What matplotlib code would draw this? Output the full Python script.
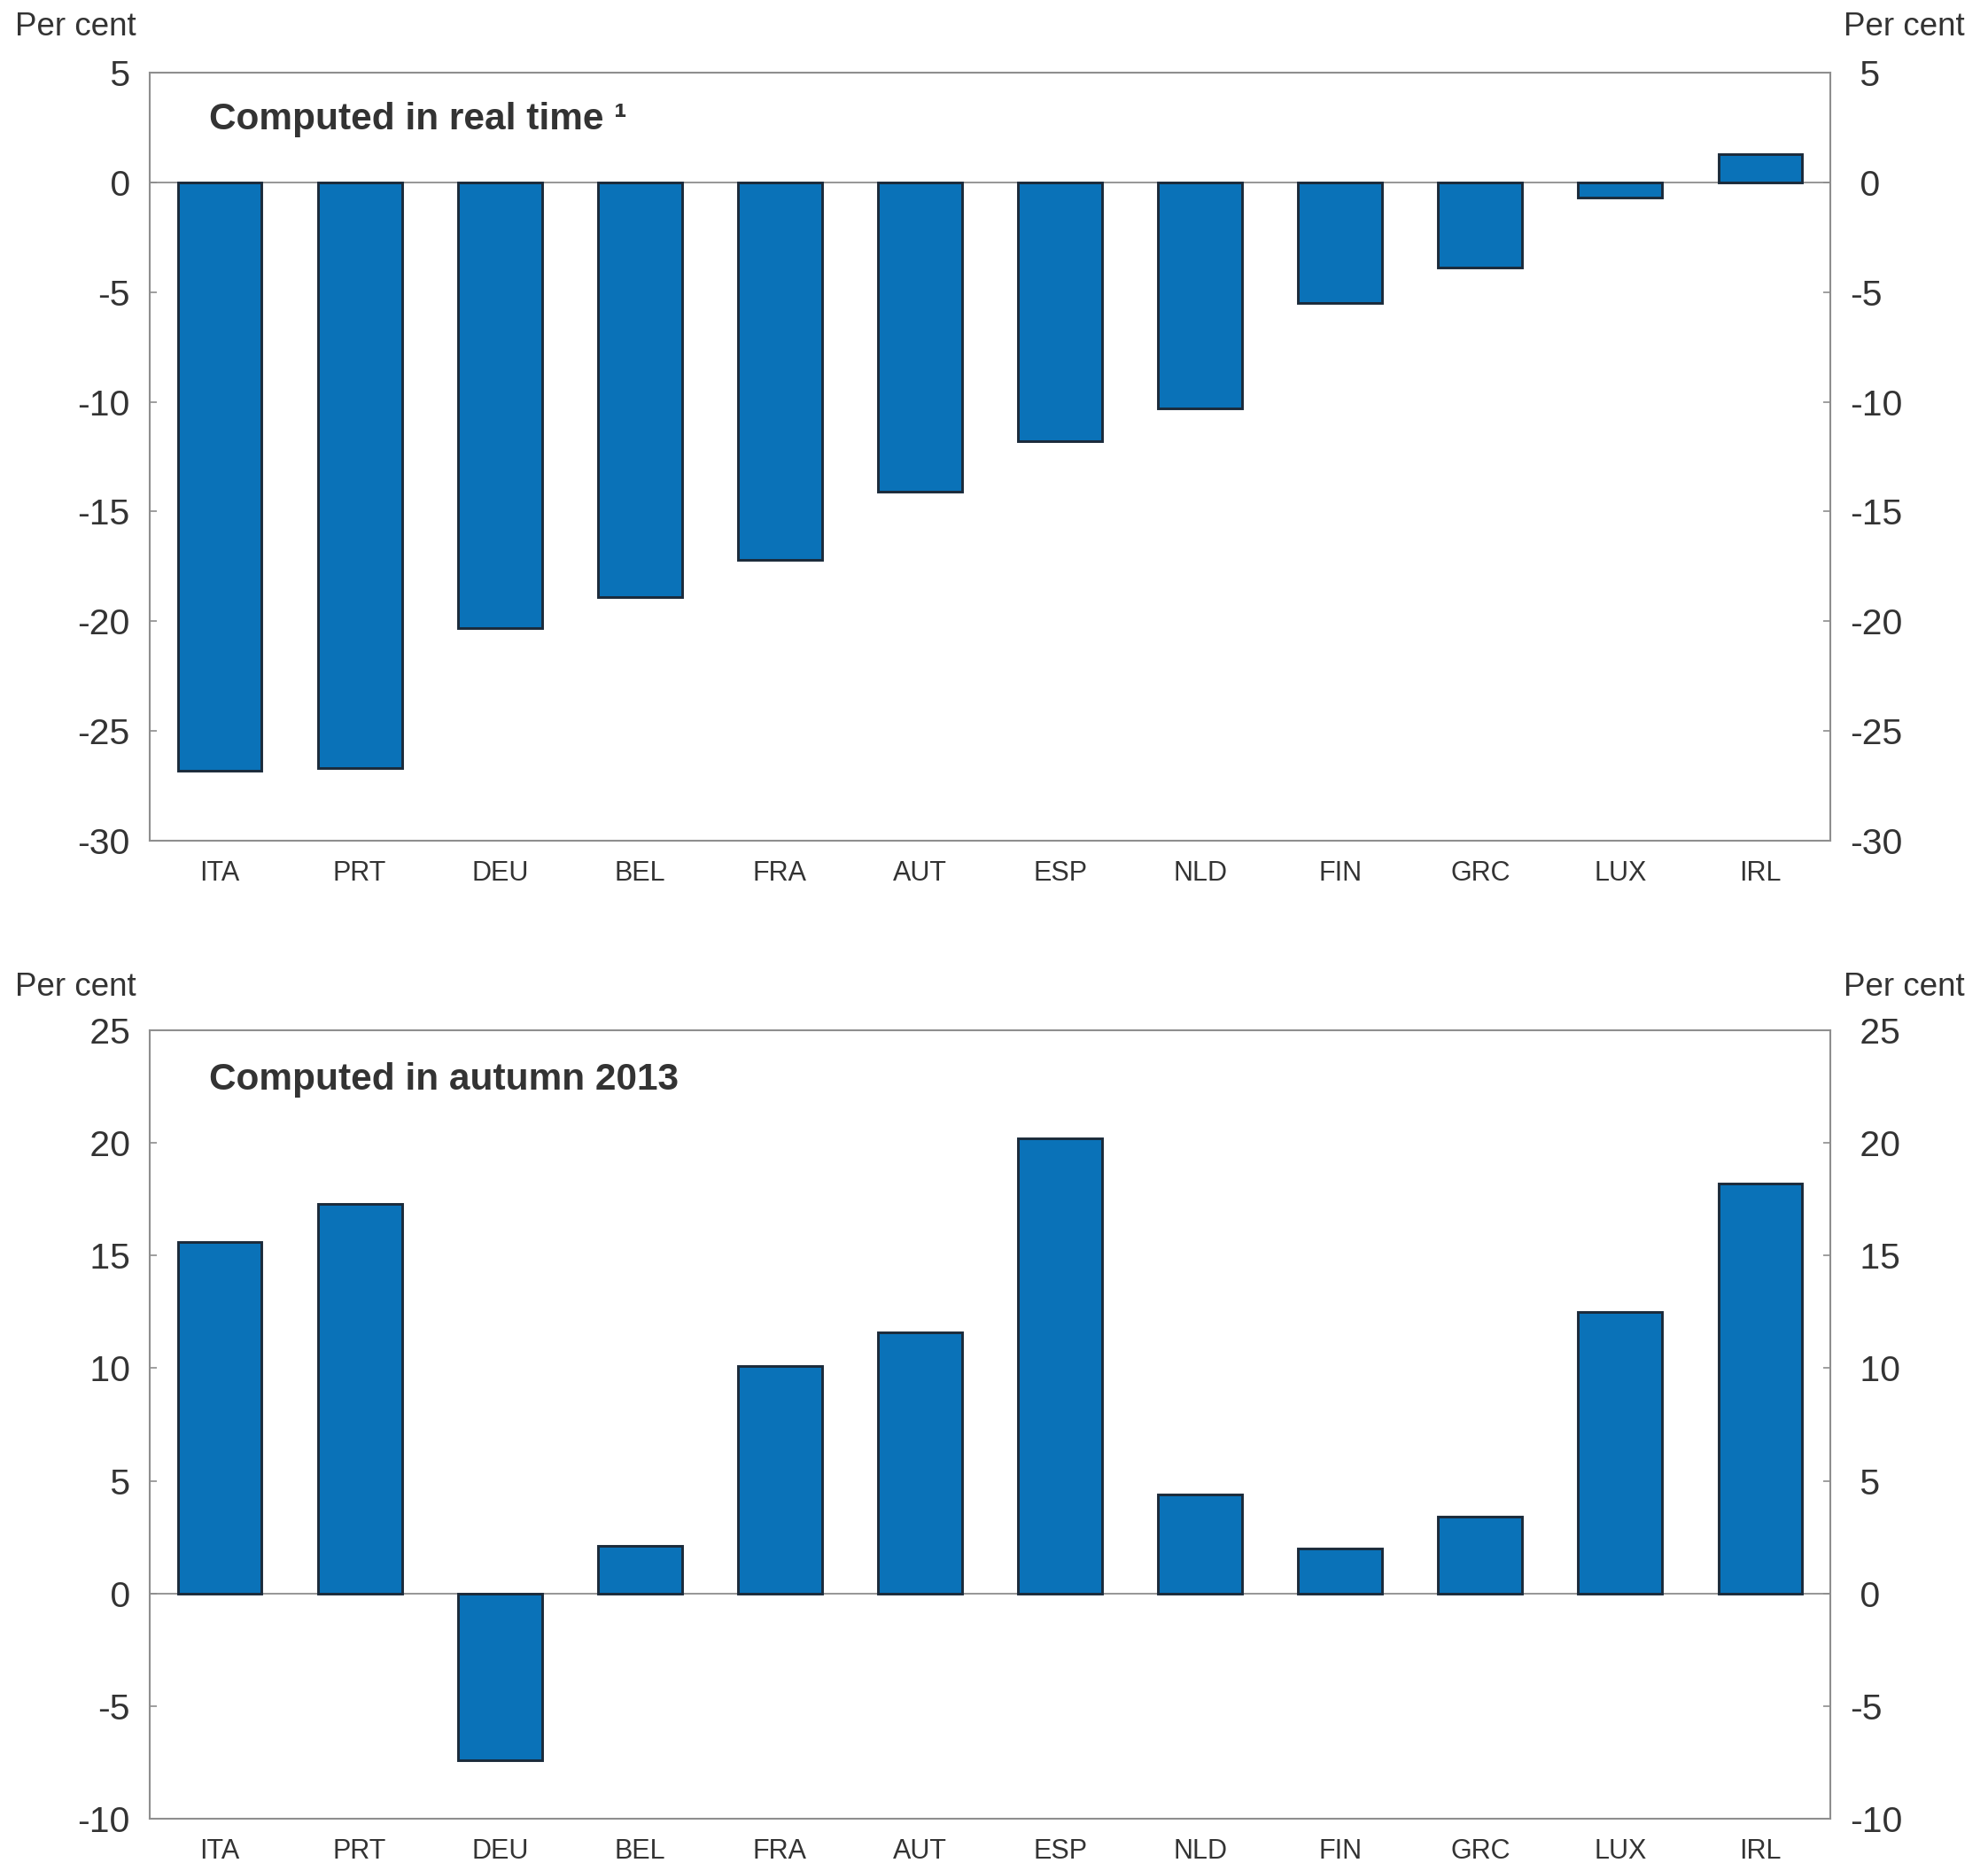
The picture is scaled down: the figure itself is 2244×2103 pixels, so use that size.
"""Two-panel bar chart: per-country gap, real time vs autumn 2013."""

import matplotlib

matplotlib.use("Agg")

import matplotlib.pyplot as plt  # noqa: E402
from matplotlib.ticker import FuncFormatter, MultipleLocator  # noqa: E402

countries = ["ITA", "PRT", "DEU", "BEL", "FRA", "AUT", "ESP", "NLD", "FIN", "GRC", "LUX", "IRL"]
real_time = [-26.8, -26.7, -20.3, -18.9, -17.2, -14.1, -11.8, -10.3, -5.5, -3.9, -0.7, 1.3]
autumn_2013 = [15.6, 17.3, -7.4, 2.1, 10.1, 11.6, 20.2, 4.4, 2.0, 3.4, 12.5, 18.2]

BAR = "#0a72b8"
EDGE = "#1b2a3a"
GRID = "#8e8e8e"
TEXT = "#333333"

plt.rcParams["font.family"] = ["Liberation Sans", "DejaVu Sans"]

W, H = 2244, 2103
fig = plt.figure(figsize=(W / 100, H / 100), dpi=100)

left, right = 169 / W, 2066 / W
panels = [
    # (values, title, ylim, top_px, bottom_px, title offset px, "Per cent" y px)
    (real_time, "Computed in real time \u00b9", (-30, 5), 82, 949, 53, 31),
    (autumn_2013, "Computed in autumn 2013", (-10, 25), 1163, 2053, 56, 1114),
]


def fmt(v, _pos):
    # hyphen minus, and a leading space so right-side digits line up
    s = f"{v:g}"
    return s if v < 0 else " " + s


for values, title, ylim, top_px, bot_px, title_off, pc_y in panels:
    ax = fig.add_axes([left, 1 - bot_px / H, right - left, (bot_px - top_px) / H])
    x = range(len(countries))
    ax.bar(x, values, width=0.6, color=BAR, edgecolor=EDGE, linewidth=2.1, zorder=3)
    ax.axhline(0, color=GRID, linewidth=1.3, zorder=2)
    ax.set_xlim(-0.5, len(countries) - 0.5)
    ax.set_ylim(*ylim)
    ax.yaxis.set_major_locator(MultipleLocator(5))
    ax.yaxis.set_major_formatter(FuncFormatter(fmt))
    ax.set_xticks(list(x))
    ax.set_xticklabels(countries)
    for sp in ax.spines.values():
        sp.set_color(GRID)
        sp.set_linewidth(1.5)
    ax.tick_params(axis="x", length=0, pad=16, labelsize=22, labelcolor=TEXT)
    ax.tick_params(axis="y", direction="in", length=6, width=1.2, color=GRID,
                   left=True, right=True, labelleft=True, labelright=True,
                   labelsize=29.5, labelcolor=TEXT, pad=16)
    ax.text(0.0353, 1 - title_off / (bot_px - top_px), title, transform=ax.transAxes,
            fontsize=30.5, fontweight="bold", color=TEXT, va="center", ha="left")
    fig.text(17 / W, 1 - pc_y / H, "Per cent", fontsize=26.5, color=TEXT,
             ha="left", va="center")
    fig.text(2218 / W, 1 - pc_y / H, "Per cent", fontsize=26.5, color=TEXT,
             ha="right", va="center")

fig.savefig("out.png", dpi=100)
